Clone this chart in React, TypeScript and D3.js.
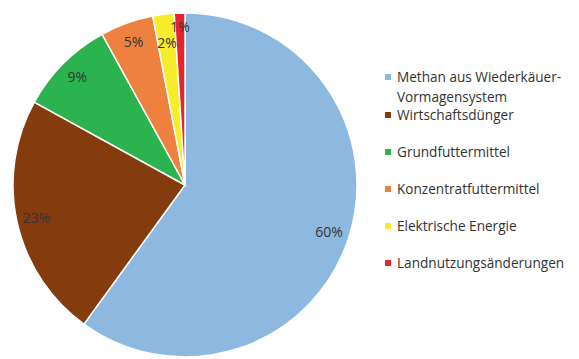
import React from "react";
import * as d3 from "d3";

const categories = [
  "Methan aus Wiederkäuer-|Vormagensystem",
  "Wirtschaftsdünger",
  "Grundfuttermittel",
  "Konzentratfuttermittel",
  "Elektrische Energie",
  "Landnutzungsänderungen",
];
const values = [60, 23, 9, 5, 2, 1];
const labels = ["60%", "23%", "9%", "5%", "2%", "1%"];
const colors = ["#8DB9E1", "#843C0F", "#2BB34F", "#EE8040", "#F7EC2A", "#E3262B"];
const legendY = [77, 115, 152, 189, 226, 263];

export default function App() {
  const W = 579, H = 359;
  const cx = 185, cy = 185, r = 172;
  const pie = d3.pie<number>().sort(null).startAngle(0).endAngle(2 * Math.PI);
  const arcs = pie(values);
  const arc = d3.arc<d3.PieArcDatum<number>>().innerRadius(0).outerRadius(r);
  const labelR = [0.88, 0.885, 0.885, 0.885, 0.83, 0.92];
  return (
    <svg width={W} height={H} style={{ position: "absolute", left: 0, top: 0, background: "#fff" }}
      fontFamily="'Open Sans', 'Liberation Sans', sans-serif">
      <g transform={`translate(${cx},${cy})`}>
        {arcs.map((a, i) => (
          <path key={i} d={arc(a) || ""} fill={colors[i]} stroke="#fff" strokeWidth={1.5} />
        ))}
        {arcs.map((a, i) => {
          const la = d3.arc<d3.PieArcDatum<number>>().innerRadius(r * labelR[i]).outerRadius(r * labelR[i]);
          const [x, y] = la.centroid(a);
          return (
            <text key={"l" + i} x={x} y={y} dy="0.35em" textAnchor="middle" fontSize={14} fill="#333">
              {labels[i]}
            </text>
          );
        })}
      </g>
      {categories.map((c, i) => {
        const lines = c.split("|");
        return (
          <g key={"lg" + i}>
            <rect x={385} y={legendY[i] - 3} width={6} height={6} fill={colors[i]} />
            {lines.map((t, j) => (
              <text key={j} x={397} y={legendY[i] + j * 20} dy="0.35em" fontSize={13.6} fill="#333">
                {t}
              </text>
            ))}
          </g>
        );
      })}
    </svg>
  );
}
